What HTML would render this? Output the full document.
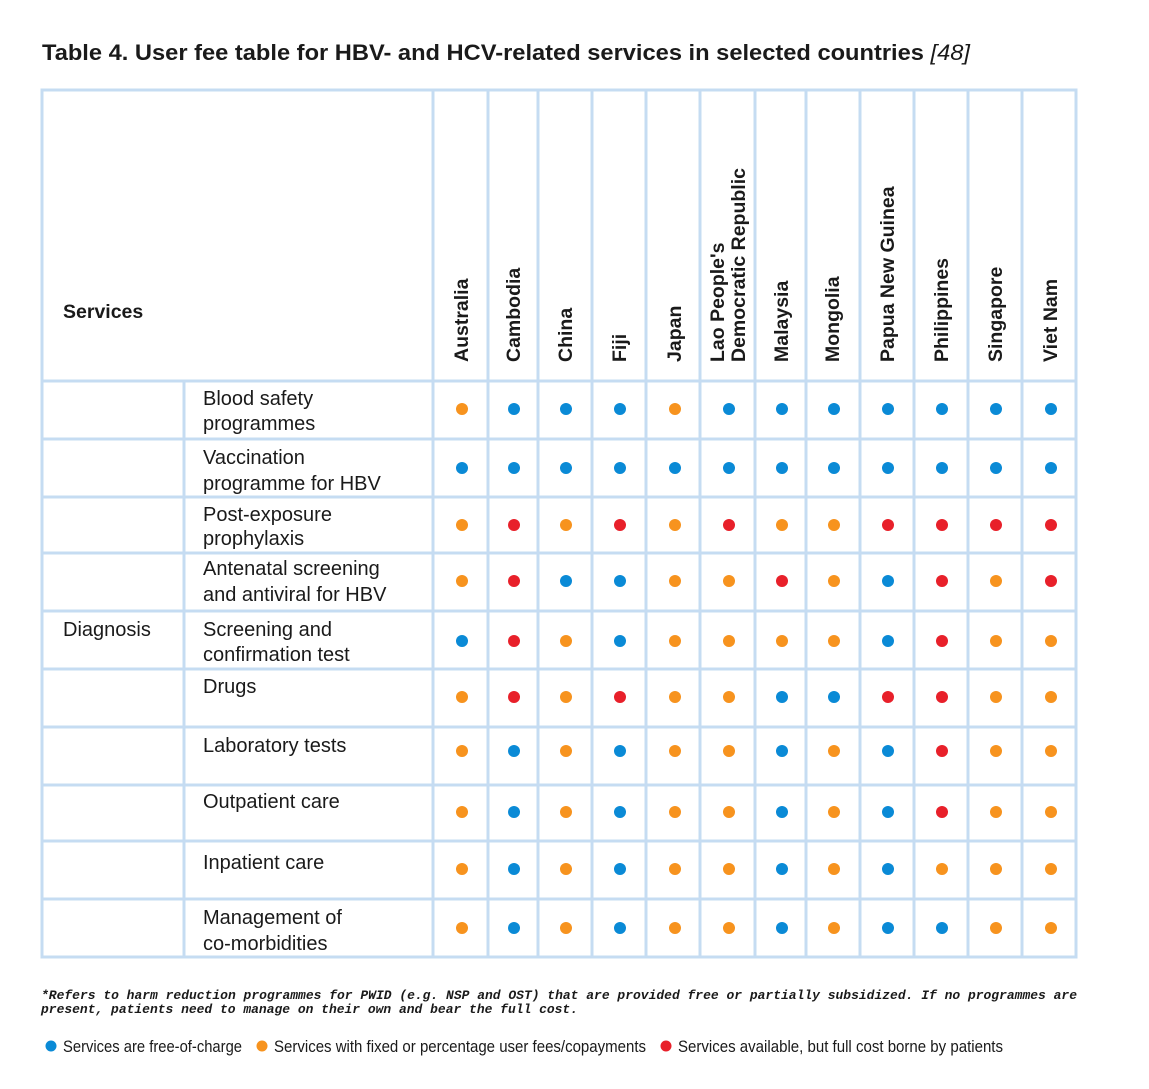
<!DOCTYPE html>
<html><head><meta charset="utf-8"><style>
html,body{margin:0;padding:0;background:#fff;}
svg{display:block;font-family:"Liberation Sans",sans-serif;}
</style></head><body>
<svg width="1149" height="1089" viewBox="0 0 1149 1089" xmlns="http://www.w3.org/2000/svg">
<text x="42" y="60" font-size="22.5" font-weight="bold" fill="#1a1a1a" textLength="928" lengthAdjust="spacingAndGlyphs">Table 4. User fee table for HBV- and HCV-related services in selected countries <tspan font-style="italic" font-weight="normal">[48]</tspan></text>
<g stroke="#c5dcf2" stroke-width="3" fill="none">
<rect x="42" y="90" width="1034" height="867"/>
<line x1="433" y1="90" x2="433" y2="957"/>
<line x1="488" y1="90" x2="488" y2="957"/>
<line x1="538" y1="90" x2="538" y2="957"/>
<line x1="592" y1="90" x2="592" y2="957"/>
<line x1="646" y1="90" x2="646" y2="957"/>
<line x1="700" y1="90" x2="700" y2="957"/>
<line x1="755" y1="90" x2="755" y2="957"/>
<line x1="806" y1="90" x2="806" y2="957"/>
<line x1="860" y1="90" x2="860" y2="957"/>
<line x1="914" y1="90" x2="914" y2="957"/>
<line x1="968" y1="90" x2="968" y2="957"/>
<line x1="1022" y1="90" x2="1022" y2="957"/>
<line x1="184" y1="381" x2="184" y2="957"/>
<line x1="42" y1="381" x2="1076" y2="381"/>
<line x1="42" y1="439" x2="1076" y2="439"/>
<line x1="42" y1="497" x2="1076" y2="497"/>
<line x1="42" y1="553" x2="1076" y2="553"/>
<line x1="42" y1="611" x2="1076" y2="611"/>
<line x1="42" y1="669" x2="1076" y2="669"/>
<line x1="42" y1="727" x2="1076" y2="727"/>
<line x1="42" y1="785" x2="1076" y2="785"/>
<line x1="42" y1="841" x2="1076" y2="841"/>
<line x1="42" y1="899" x2="1076" y2="899"/>
</g>
<text x="63" y="318" font-size="19.5" font-weight="bold" fill="#1a1a1a">Services</text>
<g font-size="19.5" font-weight="bold" fill="#1a1a1a">
<text transform="translate(468,362) rotate(-90)">Australia</text>
<text transform="translate(520,362) rotate(-90)">Cambodia</text>
<text transform="translate(572,362) rotate(-90)">China</text>
<text transform="translate(626,362) rotate(-90)">Fiji</text>
<text transform="translate(681,362) rotate(-90)">Japan</text>
<text transform="translate(724,362) rotate(-90)">Lao People's</text>
<text transform="translate(745,362) rotate(-90)">Democratic Republic</text>
<text transform="translate(788,362) rotate(-90)">Malaysia</text>
<text transform="translate(839,362) rotate(-90)">Mongolia</text>
<text transform="translate(894,362) rotate(-90)">Papua New Guinea</text>
<text transform="translate(948,362) rotate(-90)">Philippines</text>
<text transform="translate(1002,362) rotate(-90)">Singapore</text>
<text transform="translate(1057,362) rotate(-90)">Viet Nam</text>
</g>
<g font-size="20" fill="#1a1a1a">
<text x="203" y="405">Blood safety</text><text x="203" y="430">programmes</text>
<text x="203" y="464">Vaccination</text><text x="203" y="490">programme for HBV</text>
<text x="203" y="521">Post-exposure</text><text x="203" y="545">prophylaxis</text>
<text x="203" y="575">Antenatal screening</text><text x="203" y="601">and antiviral for HBV</text>
<text x="63" y="636">Diagnosis</text>
<text x="203" y="636">Screening and</text><text x="203" y="661">confirmation test</text>
<text x="203" y="693">Drugs</text>
<text x="203" y="752">Laboratory tests</text>
<text x="203" y="808">Outpatient care</text>
<text x="203" y="869">Inpatient care</text>
<text x="203" y="924">Management of</text><text x="203" y="950">co-morbidities</text>
</g>
<g id="dots"></g>
<text x="41" y="999" font-family="Liberation Mono,monospace" font-size="13" font-weight="bold" font-style="italic" fill="#1a1a1a" textLength="1036" lengthAdjust="spacingAndGlyphs">*Refers to harm reduction programmes for PWID (e.g. NSP and OST) that are provided free or partially subsidized. If no programmes are</text>
<text x="41" y="1013" font-family="Liberation Mono,monospace" font-size="13" font-weight="bold" font-style="italic" fill="#1a1a1a" textLength="537" lengthAdjust="spacingAndGlyphs">present, patients need to manage on their own and bear the full cost.</text>
<circle cx="51" cy="1046" r="5.5" fill="#0a8ad6"/>
<text x="63" y="1052" font-size="16.5" fill="#1a1a1a" textLength="179" lengthAdjust="spacingAndGlyphs">Services are free-of-charge</text>
<circle cx="262" cy="1046" r="5.5" fill="#f7931e"/>
<text x="274" y="1052" font-size="16.5" fill="#1a1a1a" textLength="372" lengthAdjust="spacingAndGlyphs">Services with fixed or percentage user fees/copayments</text>
<circle cx="666" cy="1046" r="5.5" fill="#e8202a"/>
<text x="678" y="1052" font-size="16.5" fill="#1a1a1a" textLength="325" lengthAdjust="spacingAndGlyphs">Services available, but full cost borne by patients</text>
<script>
var xs=[462,514,566,620,675,729,782,834,888,942,996,1051];
var ys=[409,468,525,581,641,697,751,812,869,928];
var d=["OBBBOBBBBBBB","BBBBBBBBBBBB","OROROROORRRR","ORBBOOROBROR","BROBOOOOBROO","OROROOBBRROO","OBOBOOBOBROO","OBOBOOBOBROO","OBOBOOBOBOOO","OBOBOOBOBBOO"];
var c={O:"#f7931e",B:"#0a8ad6",R:"#e8202a"};
var g=document.getElementById("dots");
for(var r=0;r<10;r++)for(var i=0;i<12;i++){var e=document.createElementNS("http://www.w3.org/2000/svg","circle");e.setAttribute("cx",xs[i]);e.setAttribute("cy",ys[r]);e.setAttribute("r","6");e.setAttribute("fill",c[d[r][i]]);g.appendChild(e);}
</script>
</svg>
</body></html>
